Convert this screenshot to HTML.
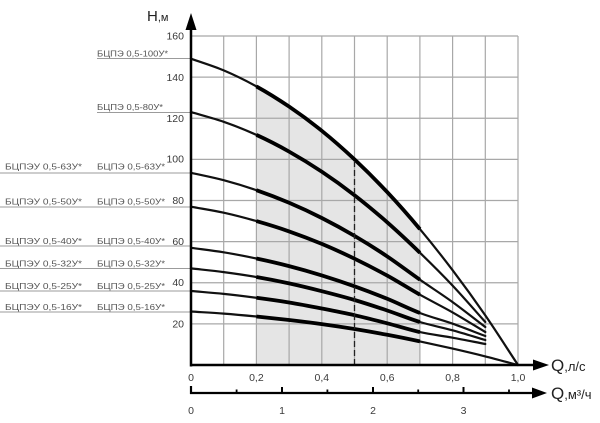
<!DOCTYPE html>
<html>
<head>
<meta charset="utf-8">
<style>
  html, body { margin:0; padding:0; background:#fff; }
  svg { display:block; }
  text { font-family: "Liberation Sans", "Noto Sans CJK SC", sans-serif; }
</style>
</head>
<body>
<svg width="600" height="423" viewBox="0 0 600 423" xmlns="http://www.w3.org/2000/svg">
  <rect width="600" height="423" fill="#fff"/>

  <!-- shaded working zone -->
  <path d="M256.4,365 L256.4,86.4 C267.3,92.43 278.2,99.2 289.1,106.6 C300,114 310.9,122 321.8,130.8 C332.7,139.6 343.6,149.18 354.5,159.4 C365.4,169.62 376.3,180.48 387.2,192.1 C398.1,203.72 409,216.08 419.9,229.1 L419.9,365 Z" fill="#e5e5e5"/>

  <!-- grid -->
  <g stroke="#a8a8a8" stroke-width="1.2" fill="none">
    <line x1="223.7" y1="36" x2="223.7" y2="365"/>
    <line x1="256.4" y1="36" x2="256.4" y2="365"/>
    <line x1="289.1" y1="36" x2="289.1" y2="365"/>
    <line x1="321.8" y1="36" x2="321.8" y2="365"/>
    <line x1="354.5" y1="36" x2="354.5" y2="365"/>
    <line x1="387.2" y1="36" x2="387.2" y2="365"/>
    <line x1="419.9" y1="36" x2="419.9" y2="365"/>
    <line x1="452.6" y1="36" x2="452.6" y2="365"/>
    <line x1="485.3" y1="36" x2="485.3" y2="365"/>
    <line x1="518" y1="36" x2="518" y2="365"/>
    <line x1="191" y1="36" x2="518" y2="36"/>
    <line x1="191" y1="77.1" x2="518" y2="77.1"/>
    <line x1="191" y1="118.25" x2="518" y2="118.25"/>
    <line x1="191" y1="159.4" x2="518" y2="159.4"/>
    <line x1="191" y1="200.5" x2="518" y2="200.5"/>
    <line x1="191" y1="241.6" x2="518" y2="241.6"/>
    <line x1="191" y1="282.75" x2="518" y2="282.75"/>
    <line x1="191" y1="323.9" x2="518" y2="323.9"/>
  </g>

  <!-- label underlines -->
  <g stroke="#9b9b9b" stroke-width="1">
    <line x1="97" y1="58.5" x2="191" y2="58.5"/>
    <line x1="97" y1="112.5" x2="191" y2="112.5"/>
    <line x1="0" y1="173" x2="191" y2="173"/>
    <line x1="0" y1="207" x2="191" y2="207"/>
    <line x1="0" y1="246" x2="191" y2="246"/>
    <line x1="0" y1="268.5" x2="191" y2="268.5"/>
    <line x1="0" y1="291" x2="191" y2="291"/>
    <line x1="0" y1="312" x2="191" y2="312"/>
  </g>

  <!-- curves (thin full) -->
  <g stroke="#111" stroke-width="2.2" fill="none" stroke-linecap="round">
    <path d="M191,58.7 C201.9,62.6 212.8,65.78 223.7,70.4 C234.6,75.02 245.5,80.37 256.4,86.4 C267.3,92.43 278.2,99.2 289.1,106.6 C300,114 310.9,122 321.8,130.8 C332.7,139.6 343.6,149.18 354.5,159.4 C365.4,169.62 376.3,180.48 387.2,192.1 C398.1,203.72 409,216.08 419.9,229.1 C430.8,242.12 441.7,255.82 452.6,270.2 C463.5,284.58 474.4,299.6 485.3,315.4 C496.2,331.2 507.1,348.47 518,365"/>
    <path d="M191,112.1 C201.9,115.33 212.8,118 223.7,121.8 C234.6,125.6 245.5,129.93 256.4,134.9 C267.3,139.87 278.2,145.47 289.1,151.6 C300,157.73 310.9,164.43 321.8,171.7 C332.7,178.97 343.6,186.77 354.5,195.2 C365.4,203.63 376.3,212.72 387.2,222.3 C398.1,231.88 409,242.15 419.9,252.7 C430.8,263.25 441.7,274.05 452.6,285.6 C463.5,297.15 474.4,309.87 485.3,322"/>
    <path d="M191,172.8 C201.9,175.27 212.8,177.3 223.7,180.2 C234.6,183.1 245.5,186.43 256.4,190.2 C267.3,193.97 278.2,198.17 289.1,202.8 C300,207.43 310.9,212.48 321.8,218 C332.7,223.52 343.6,229.5 354.5,235.9 C365.4,242.3 376.3,249.1 387.2,256.4 C398.1,263.7 409,272.08 419.9,279.7 C430.8,287.32 441.7,294.22 452.6,302.1 C463.5,309.98 474.4,318.7 485.3,327"/>
    <path d="M191,206.7 C201.9,208.7 212.8,210.3 223.7,212.7 C234.6,215.1 245.5,217.98 256.4,221.1 C267.3,224.22 278.2,227.6 289.1,231.4 C300,235.2 310.9,239.35 321.8,243.9 C332.7,248.45 343.6,253.42 354.5,258.7 C365.4,263.98 376.3,269.6 387.2,275.6 C398.1,281.6 409,288.57 419.9,294.7 C430.8,300.83 441.7,306.18 452.6,312.4 C463.5,318.62 474.4,325.47 485.3,332"/>
    <path d="M191,247.8 C201.9,249.3 212.8,250.52 223.7,252.3 C234.6,254.08 245.5,256.2 256.4,258.5 C267.3,260.8 278.2,263.28 289.1,266.1 C300,268.92 310.9,272.03 321.8,275.4 C332.7,278.77 343.6,282.4 354.5,286.3 C365.4,290.2 376.3,294.35 387.2,298.8 C398.1,303.25 409,308.85 419.9,313 C430.8,317.15 441.7,319.87 452.6,323.7 C463.5,327.53 474.4,331.9 485.3,336"/>
    <path d="M191,268.4 C201.9,269.63 212.8,270.67 223.7,272.1 C234.6,273.53 245.5,275.12 256.4,277 C267.3,278.88 278.2,281.03 289.1,283.4 C300,285.77 310.9,288.43 321.8,291.2 C332.7,293.97 343.6,296.78 354.5,300 C365.4,303.22 376.3,306.83 387.2,310.5 C398.1,314.17 409,318.7 419.9,322 C430.8,325.3 441.7,327.3 452.6,330.3 C463.5,333.3 474.4,336.77 485.3,340"/>
    <path d="M191,291 C201.9,291.97 212.8,292.77 223.7,293.9 C234.6,295.03 245.5,296.37 256.4,297.8 C267.3,299.23 278.2,300.72 289.1,302.5 C300,304.28 310.9,306.38 321.8,308.5 C332.7,310.62 343.6,312.73 354.5,315.2 C365.4,317.67 376.3,320.48 387.2,323.3 C398.1,326.12 409,329.7 419.9,332.1 C430.8,334.5 441.7,335.72 452.6,337.7 C463.5,339.68 474.4,341.9 485.3,344"/>
    <path d="M191,311.5 C201.9,312.2 212.8,312.77 223.7,313.6 C234.6,314.43 245.5,315.43 256.4,316.5 C267.3,317.57 278.2,318.73 289.1,320 C300,321.27 310.9,322.6 321.8,324.1 C332.7,325.6 343.6,327.22 354.5,329 C365.4,330.78 376.3,332.73 387.2,334.8 C398.1,336.87 409,339.1 419.9,341.4 C430.8,343.7 441.7,346.1 452.6,348.6 C463.5,351.1 474.4,353.67 485.3,356.4 C496.2,359.13 507.1,362.13 518,365"/>
  </g>

  <!-- curves thick (working zone) -->
  <g stroke="#000" stroke-width="3.8" fill="none">
    <path d="M256.4,86.4 C267.3,92.43 278.2,99.2 289.1,106.6 C300,114 310.9,122 321.8,130.8 C332.7,139.6 343.6,149.18 354.5,159.4 C365.4,169.62 376.3,180.48 387.2,192.1 C398.1,203.72 409,216.08 419.9,229.1"/>
    <path d="M256.4,134.9 C267.3,139.87 278.2,145.47 289.1,151.6 C300,157.73 310.9,164.43 321.8,171.7 C332.7,178.97 343.6,186.77 354.5,195.2 C365.4,203.63 376.3,212.72 387.2,222.3 C398.1,231.88 409,242.15 419.9,252.7"/>
    <path d="M256.4,190.2 C267.3,193.97 278.2,198.17 289.1,202.8 C300,207.43 310.9,212.48 321.8,218 C332.7,223.52 343.6,229.5 354.5,235.9 C365.4,242.3 376.3,249.1 387.2,256.4 C398.1,263.7 409,272.08 419.9,279.7"/>
    <path d="M256.4,221.1 C267.3,224.22 278.2,227.6 289.1,231.4 C300,235.2 310.9,239.35 321.8,243.9 C332.7,248.45 343.6,253.42 354.5,258.7 C365.4,263.98 376.3,269.6 387.2,275.6 C398.1,281.6 409,288.57 419.9,294.7"/>
    <path d="M256.4,258.5 C267.3,260.8 278.2,263.28 289.1,266.1 C300,268.92 310.9,272.03 321.8,275.4 C332.7,278.77 343.6,282.4 354.5,286.3 C365.4,290.2 376.3,294.35 387.2,298.8 C398.1,303.25 409,308.85 419.9,313"/>
    <path d="M256.4,277 C267.3,278.88 278.2,281.03 289.1,283.4 C300,285.77 310.9,288.43 321.8,291.2 C332.7,293.97 343.6,296.78 354.5,300 C365.4,303.22 376.3,306.83 387.2,310.5 C398.1,314.17 409,318.7 419.9,322"/>
    <path d="M256.4,297.8 C267.3,299.23 278.2,300.72 289.1,302.5 C300,304.28 310.9,306.38 321.8,308.5 C332.7,310.62 343.6,312.73 354.5,315.2 C365.4,317.67 376.3,320.48 387.2,323.3 C398.1,326.12 409,329.7 419.9,332.1"/>
    <path d="M256.4,316.5 C267.3,317.57 278.2,318.73 289.1,320 C300,321.27 310.9,322.6 321.8,324.1 C332.7,325.6 343.6,327.22 354.5,329 C365.4,330.78 376.3,332.73 387.2,334.8 C398.1,336.87 409,339.1 419.9,341.4"/>
  </g>

  <!-- dashed line at Q=0.5 -->
  <line x1="354.5" y1="161" x2="354.5" y2="365" stroke="#222" stroke-width="1.3" stroke-dasharray="6 3"/>

  <!-- axes -->
  <g stroke="#000" fill="none">
    <line x1="191" y1="366.5" x2="191" y2="27" stroke-width="2.5"/>
    <line x1="190" y1="365" x2="536" y2="365" stroke-width="2.5"/>
    <line x1="190" y1="393" x2="534" y2="393" stroke-width="2.2"/>
    <line x1="191" y1="386" x2="191" y2="394" stroke-width="2.2"/>
    <line x1="282" y1="387" x2="282" y2="393" stroke-width="2"/>
    <line x1="373" y1="387" x2="373" y2="393" stroke-width="2"/>
    <line x1="463.5" y1="387" x2="463.5" y2="393" stroke-width="2"/>
    <line x1="236.6" y1="389.5" x2="236.6" y2="393" stroke-width="1.8"/>
    <line x1="327.4" y1="389.5" x2="327.4" y2="393" stroke-width="1.8"/>
    <line x1="418.2" y1="389.5" x2="418.2" y2="393" stroke-width="1.8"/>
    <line x1="509" y1="389.5" x2="509" y2="393" stroke-width="1.8"/>
  </g>
  <g fill="#000">
    <polygon points="191,13 185.5,30 196.5,30"/>
    <polygon points="549,365 533,359.5 533,370.5"/>
    <polygon points="547,393 532,387.5 532,398.5"/>
  </g>

  <!-- y tick labels -->
  <g font-size="10.5" fill="#3a3a3a" text-anchor="end">
    <text x="184" y="39.5">160</text>
    <text x="184" y="81">140</text>
    <text x="184" y="122">120</text>
    <text x="184" y="162.5">100</text>
    <text x="184" y="204">80</text>
    <text x="184" y="245">60</text>
    <text x="184" y="286">40</text>
    <text x="184" y="327.5">20</text>
  </g>

  <!-- x tick labels (l/s) -->
  <g font-size="10.5" fill="#3a3a3a" text-anchor="middle">
    <text x="191" y="381">0</text>
    <text x="256.4" y="381">0,2</text>
    <text x="321.8" y="381">0,4</text>
    <text x="387.2" y="381">0,6</text>
    <text x="452.6" y="381">0,8</text>
    <text x="518" y="381">1,0</text>
  </g>
  <!-- x tick labels (m3/h) -->
  <g font-size="10.5" fill="#3a3a3a" text-anchor="middle">
    <text x="191" y="414">0</text>
    <text x="282" y="414">1</text>
    <text x="373" y="414">2</text>
    <text x="463.5" y="414">3</text>
  </g>

  <!-- axis titles -->
  <text x="147" y="21" font-size="15" fill="#222">Н<tspan font-size="11">,м</tspan></text>
  <text x="551" y="371" font-size="17" fill="#222">Q<tspan font-size="13">,л/с</tspan></text>
  <text x="551" y="399" font-size="17" fill="#222">Q<tspan font-size="13">,м³/ч</tspan></text>

  <!-- pump labels -->
  <g font-size="8.5" fill="#555">
    <text x="97" y="56.5" textLength="71" lengthAdjust="spacingAndGlyphs">БЦПЭ 0,5-100У*</text>
    <text x="97" y="110" textLength="66" lengthAdjust="spacingAndGlyphs">БЦПЭ 0,5-80У*</text>

    <text x="97" y="169.5" textLength="68" lengthAdjust="spacingAndGlyphs">БЦПЭ 0,5-63У*</text>
    <text x="5" y="169.5" textLength="77" lengthAdjust="spacingAndGlyphs">БЦПЭУ 0,5-63У*</text>

    <text x="97" y="204.5" textLength="68" lengthAdjust="spacingAndGlyphs">БЦПЭ 0,5-50У*</text>
    <text x="5" y="204.5" textLength="77" lengthAdjust="spacingAndGlyphs">БЦПЭУ 0,5-50У*</text>

    <text x="97" y="244" textLength="68" lengthAdjust="spacingAndGlyphs">БЦПЭ 0,5-40У*</text>
    <text x="5" y="244" textLength="77" lengthAdjust="spacingAndGlyphs">БЦПЭУ 0,5-40У*</text>

    <text x="97" y="266.5" textLength="68" lengthAdjust="spacingAndGlyphs">БЦПЭ 0,5-32У*</text>
    <text x="5" y="266.5" textLength="77" lengthAdjust="spacingAndGlyphs">БЦПЭУ 0,5-32У*</text>

    <text x="97" y="289" textLength="68" lengthAdjust="spacingAndGlyphs">БЦПЭ 0,5-25У*</text>
    <text x="5" y="289" textLength="77" lengthAdjust="spacingAndGlyphs">БЦПЭУ 0,5-25У*</text>

    <text x="97" y="310" textLength="68" lengthAdjust="spacingAndGlyphs">БЦПЭ 0,5-16У*</text>
    <text x="5" y="310" textLength="77" lengthAdjust="spacingAndGlyphs">БЦПЭУ 0,5-16У*</text>
  </g>
</svg>
</body>
</html>
